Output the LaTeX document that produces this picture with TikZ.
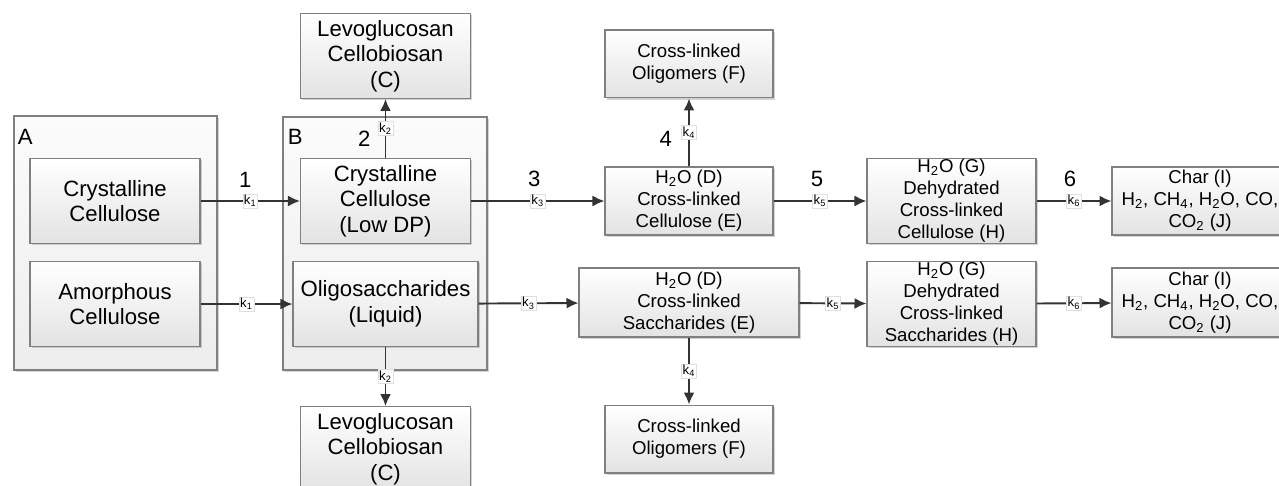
\documentclass[tikz,border=0pt]{standalone}
\usepackage{fontspec}
\setmainfont{Liberation Sans}
\usepackage{tikz}
\usetikzlibrary{arrows.meta,positioning,shadows}

\newcommand{\boxfont}{\fontsize{12.6}{14.6}\selectfont}
\newcommand{\smallboxfont}{\fontsize{10.6}{12.5}\selectfont}
\newcommand{\kfont}{\fontsize{7.5}{8}\selectfont}

\begin{document}
\begin{tikzpicture}[
      x=0.02cm,y=-0.02cm,
      block/.style={
        rectangle,
        draw=gray,
        line width=0.6pt,
        top color=white,
        bottom color=gray!22,
        align=center,
        inner sep=0pt,
        minimum width=3.4cm,
        minimum height=1.7cm,
        font=\boxfont,
        drop shadow={shadow xshift=1pt, shadow yshift=-1pt, opacity=0.35}
      },
      sblock/.style={block,font=\smallboxfont,minimum width=3.36cm,minimum height=1.36cm},
      group/.style={
        rectangle,
        draw=gray,
        line width=0.6pt,
        top color=gray!3,
        bottom color=gray!14,
        drop shadow={shadow xshift=1pt, shadow yshift=-1pt, opacity=0.35}
      },
      arrow/.style={->,>={Latex[length=2.4mm,width=2.2mm]},line width=1.1pt,draw=black!80},
      klab/.style={fill=white,draw=gray!25,line width=0.3pt,inner sep=0.6pt,font=\kfont},
      numlab/.style={inner sep=0pt,font=\boxfont}
    ]
    \useasboundingbox (0,0) rectangle (1279,486);

    % Groups A and B
    \node[group,minimum width=4.06cm,minimum height=5.08cm] (grpA) at (115.5,243) {};
    \node[group,minimum width=4.08cm,minimum height=5.06cm] (grpB) at (385,243.5) {};
    \node[numlab,anchor=north west] (labA) at ([xshift=2.3pt,yshift=-7.4pt]grpA.north west) {A};
    \node[numlab,anchor=north west] (labB) at ([xshift=2.8pt,yshift=-7pt]grpB.north west) {B};

    % Cellulose
    \node[block] (acry) at (115,201) {Crystalline\\Cellulose};
    \node[block,below=0.34cm of acry] (aamo) {Amorphous\\Cellulose};
    \node[block] (bcry) at (385.5,201) {Crystalline\\Cellulose\\(Low DP)};
    \node[block,minimum width=3.7cm,below=0.34cm of bcry] (boli) {Oligosaccharides\\(Liquid)};

    % Levoglucosan
    \node[block,above=1.18cm of bcry] (ctop) {Levoglucosan\\Cellobiosan\\(C)};
    \node[block,below=1.18cm of boli] (cbot) {Levoglucosan\\Cellobiosan\\(C)};

    % Cross-linked products
    \node[sblock] (dtop) at (689,201) {H\textsubscript{2}O (D)\\Cross-linked\\Cellulose (E)};
    \node[sblock,minimum width=4.4cm,minimum height=1.38cm] (dbot) at (689,302.5) {H\textsubscript{2}O (D)\\Cross-linked\\Saccharides (E)};
    \node[sblock,above=1.36cm of dtop] (ftop) {Cross-linked\\Oligomers (F)};
    \node[sblock,below=1.34cm of dbot] (fbot) {Cross-linked\\Oligomers (F)};

    % Dehydrated
    \node[sblock,minimum width=3.38cm,minimum height=1.7cm] (htop) at (951.5,201) {H\textsubscript{2}O (G)\\Dehydrated\\Cross-linked\\Cellulose (H)};
    \node[sblock,minimum width=3.38cm,minimum height=1.7cm,below=0.34cm of htop] (hbot) {H\textsubscript{2}O (G)\\Dehydrated\\Cross-linked\\Saccharides (H)};

    % Char and gases
    \node[sblock,minimum width=3.52cm] (itop) at (1200,201) {Char (I)\\H\textsubscript{2}, CH\textsubscript{4}, H\textsubscript{2}O, CO,\\CO\textsubscript{2} (J)};
    \node[sblock,minimum width=3.52cm,minimum height=1.38cm] (ibot) at (1200,302.5) {Char (I)\\H\textsubscript{2}, CH\textsubscript{4}, H\textsubscript{2}O, CO,\\CO\textsubscript{2} (J)};

    % Reactions, top row
    \draw[arrow] (acry) -- node[klab]{k\textsubscript{1}} node[numlab,above=0.26cm,xshift=-0.1cm]{1} (bcry);
    \draw[arrow] (bcry) -- node[klab]{k\textsubscript{2}} node[numlab,left=0.28cm,yshift=-0.2cm]{2} (ctop);
    \draw[arrow] (bcry) -- node[klab]{k\textsubscript{3}} node[numlab,above=0.26cm,xshift=-0.07cm]{3} (dtop);
    \draw[arrow] (dtop) -- node[klab]{k\textsubscript{4}} node[numlab,left=0.32cm,yshift=-0.12cm]{4} (ftop);
    \draw[arrow] (dtop) -- node[klab]{k\textsubscript{5}} node[numlab,above=0.26cm,xshift=-0.06cm]{5} (htop);
    \draw[arrow] (htop) -- node[klab]{k\textsubscript{6}} node[numlab,above=0.26cm,xshift=-0.08cm]{6} (itop);

    % Reactions, bottom row
    \draw[arrow] (aamo) -- node[klab]{k\textsubscript{1}} (boli);
    \draw[arrow] (boli) -- node[klab]{k\textsubscript{2}} (cbot);
    \draw[arrow] (boli) -- node[klab]{k\textsubscript{3}} (dbot);
    \draw[arrow] (dbot) -- node[klab]{k\textsubscript{4}} (fbot);
    \draw[arrow] (dbot) -- node[klab]{k\textsubscript{5}} (hbot);
    \draw[arrow] (hbot) -- node[klab]{k\textsubscript{6}} (ibot);
  \end{tikzpicture}
\end{document}
